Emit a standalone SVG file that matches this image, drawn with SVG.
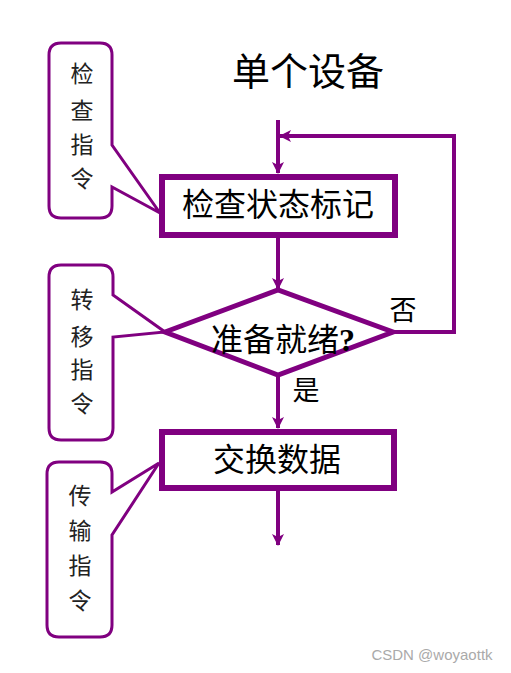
<svg xmlns="http://www.w3.org/2000/svg" width="511" height="673" viewBox="0 0 511 673">
<style>
.node{fill:#fff;stroke:#800080;stroke-width:6}
.call{fill:#fff;stroke:#800080;stroke-width:3;stroke-linejoin:miter}
.line{fill:none;stroke:#800080;stroke-width:4}
.t{font-family:"Liberation Serif","Noto Sans CJK SC",serif;fill:#000;text-anchor:middle}
.c{font-family:"Noto Sans CJK SC",sans-serif;fill:#222;font-size:23px;text-anchor:middle}
</style>
<defs>
<marker id="ah" viewBox="0 0 12 12" refX="11" refY="6" markerWidth="12" markerHeight="12" markerUnits="userSpaceOnUse" orient="auto">
<path d="M0,0 L12,6 L0,12 L3,6 Z" fill="#800080"/>
</marker>
</defs>
<rect width="511" height="673" fill="#fff"/>
<text class="t" x="308" y="85" font-size="38">单个设备</text>
<g id="connectors">
<line class="line" x1="278" y1="120" x2="278" y2="173" marker-end="url(#ah)"/>
<polyline class="line" points="393,332 454,332 454,136 280,136" marker-end="url(#ah)"/>
<line class="line" x1="278" y1="238" x2="278" y2="289" marker-end="url(#ah)"/>
<line class="line" x1="278" y1="375" x2="278" y2="428" marker-end="url(#ah)"/>
<line class="line" x1="278" y1="491" x2="278" y2="545" marker-end="url(#ah)"/>
<text class="t" x="403" y="320" font-size="27">否</text>
<text class="t" x="306" y="400" font-size="27">是</text>
</g>
<g id="callout-check">
<path class="call" d="M61,43 H100 Q112,43 112,55 V145 L160,213 L112,187 V206 Q112,218 100,218 H61 Q49,218 49,206 V55 Q49,43 61,43 Z"/>
<text class="c" x="82" y="82">检</text>
<text class="c" x="82" y="119">查</text>
<text class="c" x="82" y="153">指</text>
<text class="c" x="82" y="187">令</text>
</g>
<g id="callout-transfer">
<path class="call" d="M61,265 H101 Q113,265 113,277 V295 L165,332 L113,337 V428 Q113,440 101,440 H61 Q49,440 49,428 V277 Q49,265 61,265 Z"/>
<text class="c" x="82" y="308">转</text>
<text class="c" x="82" y="345">移</text>
<text class="c" x="82" y="378">指</text>
<text class="c" x="82" y="412">令</text>
</g>
<g id="callout-transmit">
<path class="call" d="M59,462 H100 Q112,462 112,474 V492 L159,463 L112,535 V625 Q112,637 100,637 H59 Q47,637 47,625 V474 Q47,462 59,462 Z"/>
<text class="c" x="80" y="504">传</text>
<text class="c" x="80" y="539">输</text>
<text class="c" x="80" y="574">指</text>
<text class="c" x="80" y="609">令</text>
</g>
<g id="check-flag">
<rect class="node" x="162" y="177" width="233" height="58"/>
<text class="t" x="278" y="216" font-size="32">检查状态标记</text>
</g>
<g id="ready">
<polygon class="node" points="165,332 278,290 393,332 278,375" style="stroke-width:5"/>
<text class="t" x="283" y="351" font-size="32">准备就绪<tspan font-weight="bold">?</tspan></text>
</g>
<g id="exchange">
<rect class="node" x="162" y="432" width="232" height="56"/>
<text class="t" x="277" y="471" font-size="32">交换数据</text>
</g>
<text x="432" y="660" font-family="Liberation Sans,sans-serif" font-size="15" fill="#aaa" text-anchor="middle">CSDN @woyaottk</text>
</svg>
